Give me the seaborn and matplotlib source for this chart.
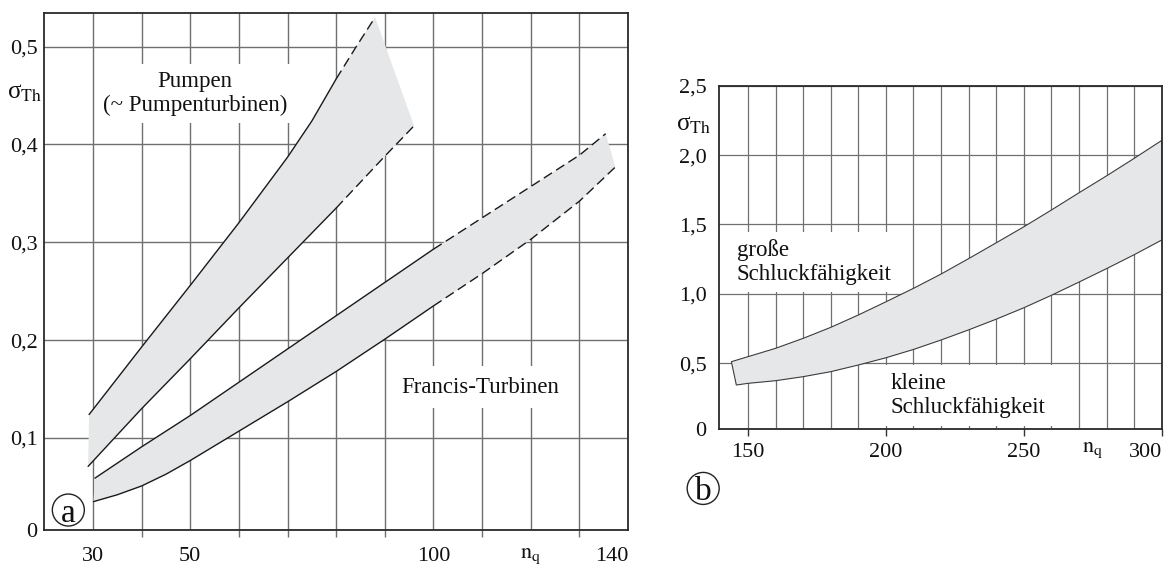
import numpy as np
import matplotlib
matplotlib.use("Agg")
import matplotlib.pyplot as plt
from matplotlib.patches import Ellipse
import seaborn as sns

# --- panel a: sigma_Th over n_q, pumps and Francis turbines (lower n_q range)
pump_upper_nq = [29.2, 40, 50, 60, 70, 75, 80, 84, 88.0]
pump_upper_sigma = [0.124, 0.193, 0.256, 0.320, 0.387, 0.424, 0.467, 0.499, 0.530]
pump_lower_nq = [29.0, 40, 50, 60, 70, 80, 90, 96]
pump_lower_sigma = [0.071, 0.130, 0.181, 0.233, 0.284, 0.335, 0.388, 0.419]
pump_dashed_from = 80

francis_upper_nq = [30.4, 40, 50, 60, 70, 80, 90, 100, 110, 120, 130, 135.4]
francis_upper_sigma = [0.059, 0.091, 0.123, 0.157, 0.191, 0.225, 0.259, 0.293,
                       0.325, 0.357, 0.389, 0.411]
francis_lower_nq = [30.1, 35, 40, 45, 50, 60, 70, 80, 90, 100, 110, 120, 130, 137.4]
francis_lower_sigma = [0.035, 0.042, 0.051, 0.063, 0.077, 0.107, 0.137, 0.168,
                       0.201, 0.235, 0.268, 0.303, 0.342, 0.377]
francis_dashed_from = 100

# --- panel b: high n_q range
high_upper_nq = [144, 150, 160, 170, 180, 190, 200, 210, 220, 230, 240, 250,
                 260, 270, 280, 290, 300]
high_upper_sigma = [0.512, 0.548, 0.608, 0.680, 0.759, 0.848, 0.943, 1.040,
                    1.143, 1.254, 1.368, 1.483, 1.604, 1.728, 1.850, 1.976, 2.105]
high_lower_nq = [145.8, 150, 160, 170, 180, 190, 200, 210, 220, 230, 240, 250,
                 260, 270, 280, 290, 300]
high_lower_sigma = [0.344, 0.356, 0.375, 0.404, 0.440, 0.488, 0.540, 0.600,
                    0.668, 0.741, 0.818, 0.900, 0.990, 1.085, 1.182, 1.282, 1.388]

a_xticks = [30, 50, 100, 120, 140]
a_xticklabels = ["30", "50", "100", r"$\mathrm{n}_\mathrm{q}$", "140"]
a_yticks = [0.1, 0.2, 0.3, 0.4, 0.5]
b_xticks = [150, 200, 250, 300]
b_yticks = [0.5, 1.0, 1.5, 2.0, 2.5]

sns.set_theme(style="white")
plt.rcParams["font.family"] = ["Liberation Serif", "DejaVu Serif"]
plt.rcParams["mathtext.fontset"] = "stix"
plt.rcParams["text.color"] = "#111111"
plt.rcParams["xtick.labelcolor"] = "#111111"
plt.rcParams["ytick.labelcolor"] = "#111111"

FILL = "#e6e7e9"
GRID = "#707070"
FS = 16.5


def comma(v):
    return f"{v:.1f}".replace(".", ",")


def draw_band(ax, ux, uy, lx, ly, dash_from, color, lw):
    ux, uy, lx, ly = map(np.asarray, (ux, uy, lx, ly))
    # shaded band, closed at both ends
    ax.fill(np.concatenate([ux, lx[::-1]]), np.concatenate([uy, ly[::-1]]),
            color=FILL, lw=0, zorder=2)
    for x, y in ((ux, uy), (lx, ly)):
        solid = x <= dash_from
        sns.lineplot(x=x[solid], y=y[solid], ax=ax, color=color, linewidth=lw,
                     sort=False, zorder=3)
        dashed = x >= dash_from
        if dashed.sum() > 1:
            sns.lineplot(x=x[dashed], y=y[dashed], ax=ax, color=color,
                         linewidth=lw, linestyle=(0, (7, 3.5)), sort=False,
                         zorder=3)


fig = plt.figure(figsize=(11.7, 5.64), dpi=100, facecolor="white")
ax_a = fig.add_axes([0.0379, 0.0603, 0.4989, 0.9161])
ax_b = fig.add_axes([0.6145, 0.2388, 0.3784, 0.6094])

# ---------------- panel a
ax = ax_a
draw_band(ax, pump_upper_nq, pump_upper_sigma, pump_lower_nq, pump_lower_sigma,
          pump_dashed_from, "#1a1a1a", 1.0)
draw_band(ax, francis_upper_nq, francis_upper_sigma, francis_lower_nq,
          francis_lower_sigma, francis_dashed_from, "#1a1a1a", 1.0)
ax.set_xlim(20, 140)
ax.set_ylim(0.006, 0.534)
ax.set_xticks(a_xticks)
ax.set_xticklabels(a_xticklabels)
ax.set_xticks([40, 60, 70, 80, 90, 110, 130], minor=True)
ax.set_yticks([0.006] + a_yticks)
ax.set_yticklabels(["0"] + [comma(v) for v in a_yticks])
ax.tick_params(axis="x", which="major", length=0, pad=12, labelsize=16)
ax.tick_params(axis="x", which="minor", length=5, width=1, color=GRID,
               direction="out", bottom=True)
ax.tick_params(axis="y", length=0, pad=5, labelsize=16)
ax.get_xticklabels()[-1].set_ha("right")
ax.grid(True, which="both", color=GRID, linewidth=1.0)
ax.set_axisbelow(True)
ax.text(51.0, 0.452, "Pumpen\n(~ Pumpenturbinen)", ha="center", va="center",
        fontsize=FS, linespacing=1.15, zorder=5,
        bbox=dict(boxstyle="square,pad=0.3", fc="white", ec="none"))
ax.text(109.6, 0.152, "Francis-Turbinen", ha="center", va="center",
        fontsize=FS, zorder=5,
        bbox=dict(boxstyle="square,pad=0.45", fc="white", ec="none"))
ax.set_xlabel("")
ax.set_ylabel("")

# ---------------- panel b
ax = ax_b
ux, uy = np.asarray(high_upper_nq), np.asarray(high_upper_sigma)
lx, ly = np.asarray(high_lower_nq), np.asarray(high_lower_sigma)
ax.fill(np.concatenate([ux, lx[::-1]]), np.concatenate([uy, ly[::-1]]),
        facecolor=FILL, edgecolor="#3c3c3c", lw=0.8, zorder=2)
ax.set_xlim(139.5, 300)
ax.set_ylim(0.025, 2.5)
ax.set_xticks(b_xticks)
ax.set_xticks(np.arange(150, 300, 10), minor=True)
ax.set_yticks([0.025] + b_yticks)
ax.set_yticklabels(["0"] + [comma(v) for v in b_yticks])
ax.tick_params(axis="x", which="major", length=5, width=1, color="#333333",
               direction="out", bottom=True, pad=5, labelsize=16)
ax.tick_params(axis="x", which="minor", length=0)
ax.tick_params(axis="y", length=0, pad=9, labelsize=16)
ax.get_xticklabels()[-1].set_ha("right")
ax.grid(True, which="both", color=GRID, linewidth=0.9)
ax.set_axisbelow(True)
ax.text(146.0, 1.23, "große\nSchluckfähigkeit", ha="left", va="center",
        fontsize=FS, linespacing=1.15, zorder=5,
        bbox=dict(boxstyle="square,pad=0.3", fc="white", ec="none"))
ax.text(201.8, 0.268, "kleine\nSchluckfähigkeit", ha="left", va="center",
        fontsize=FS, linespacing=1.15, zorder=5,
        bbox=dict(boxstyle="square,pad=0.35", fc="white", ec="none"))
ax.text(275, -0.06, r"$\mathrm{n}_\mathrm{q}$", transform=ax.get_xaxis_transform(),
        ha="center", va="center", fontsize=16)

for ax in (ax_a, ax_b):
    for s in ax.spines.values():
        s.set_color("#2a2a2a")
        s.set_linewidth(1.3)
        s.set_zorder(6)

# axis symbols and circled panel letters
fig.text(0.021, 0.835, r"σ$_{\mathrm{Th}}$", fontsize=18, ha="center", va="center")
fig.text(0.593, 0.778, r"σ$_{\mathrm{Th}}$", fontsize=18, ha="center", va="center")
for letter, cx, cy in (("a", 0.0584, 0.0957), ("b", 0.601, 0.134)):
    fig.add_artist(Ellipse((cx, cy), 32 / 1170, 32 / 564, transform=fig.transFigure,
                           fill=False, edgecolor="#222222", lw=1.0))
    fig.text(cx, cy, letter, fontsize=24, ha="center", va="center_baseline")

fig.savefig("out.png", dpi=100, facecolor="white")
